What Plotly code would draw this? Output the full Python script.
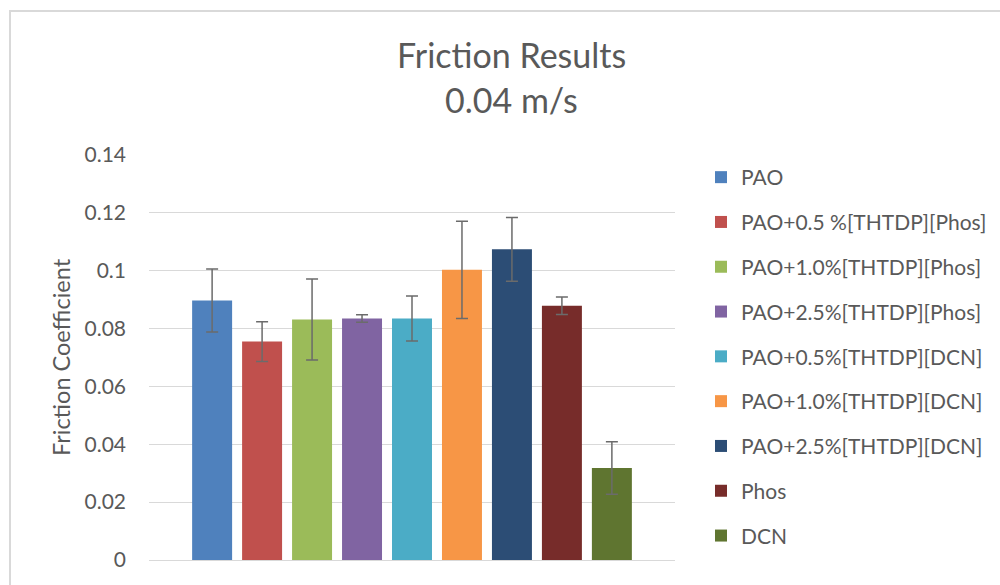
"""Friction results bar chart at 0.04 m/s."""

import plotly.graph_objects as go

names = [
    "PAO",
    "PAO+0.5 %[THTDP][Phos]",
    "PAO+1.0%[THTDP][Phos]",
    "PAO+2.5%[THTDP][Phos]",
    "PAO+0.5%[THTDP][DCN]",
    "PAO+1.0%[THTDP][DCN]",
    "PAO+2.5%[THTDP][DCN]",
    "Phos",
    "DCN",
]
friction = [0.0897, 0.0755, 0.0831, 0.0835, 0.0835, 0.1003, 0.1074, 0.0879, 0.0318]
errors = [0.0109, 0.0069, 0.0140, 0.0013, 0.0078, 0.0168, 0.0110, 0.0030, 0.0091]
colors = ["#4F81BD", "#C0504D", "#9BBB59", "#8064A2", "#4BACC6",
          "#F79646", "#2C4D75", "#772C2A", "#5F7530"]
y_ticks = [0, 0.02, 0.04, 0.06, 0.08, 0.1, 0.12, 0.14]
y_tick_text = ["0", "0.02", "0.04", "0.06", "0.08", "0.1", "0.12", "0.14"]

W, H = 1000, 585
L, R, T, B = 149, 675, 155, 560  # plot area in pixels
pw, ph = R - L, B - T


def px(x):
    return (x - L) / pw


def py(y):
    return (B - y) / ph


font = "Lato, 'Open Sans', sans-serif"
grey = "#595959"

fig = go.Figure()
for i, (n, v, e, c) in enumerate(zip(names, friction, errors, colors)):
    fig.add_trace(go.Bar(
        x=["A"], y=[v], name=n,
        marker=dict(color=c, line=dict(width=0)),
        error_y=dict(type="data", array=[e], color="#6b6b6b", thickness=1.5, width=6),
        legendgroup=str(i),
    ))

fig.update_layout(
    width=W, height=H,
    margin=dict(l=L, r=W - R, t=T, b=H - B, pad=0, autoexpand=False),
    paper_bgcolor="white", plot_bgcolor="white",
    barmode="group", bargap=0.145, bargroupgap=0.2,
    font=dict(family=font, color=grey),
    showlegend=True,
    legend=dict(
        x=px(701), y=py(157), xanchor="left", yanchor="top",
        font=dict(size=21, color=grey), tracegroupgap=14.5,
        bgcolor="rgba(0,0,0,0)",
    ),
    xaxis=dict(showticklabels=False, showgrid=False, zeroline=False, ticks=""),
    yaxis=dict(
        range=[0, 0.14], tickvals=y_ticks, ticktext=y_tick_text,
        showgrid=True, gridcolor="#d9d9d9", gridwidth=1,
        zeroline=True, zerolinecolor="#d9d9d9", zerolinewidth=1,
        tickfont=dict(size=21, color=grey), ticks="", ticklabelstandoff=22,
        title=dict(text="Friction Coefficient", font=dict(size=23.5, color=grey), standoff=7),
    ),
)

fig.add_annotation(text="Friction Results", xref="paper", yref="paper",
                   x=px(511), y=py(54), showarrow=False,
                   xanchor="center", yanchor="middle",
                   font=dict(size=34, color=grey))
fig.add_annotation(text="0.04 m/s", xref="paper", yref="paper",
                   x=px(511), y=py(99), showarrow=False,
                   xanchor="center", yanchor="middle",
                   font=dict(size=34, color=grey))

# chart area border
fig.add_shape(type="rect", xref="paper", yref="paper",
              x0=px(10), y0=py(H + 20), x1=px(W + 20), y1=py(11),
              line=dict(color="#d9d9d9", width=2), layer="below")

fig.write_html("out.html", config={"displayModeBar": False},
               post_script="document.body.style.margin='0';")
